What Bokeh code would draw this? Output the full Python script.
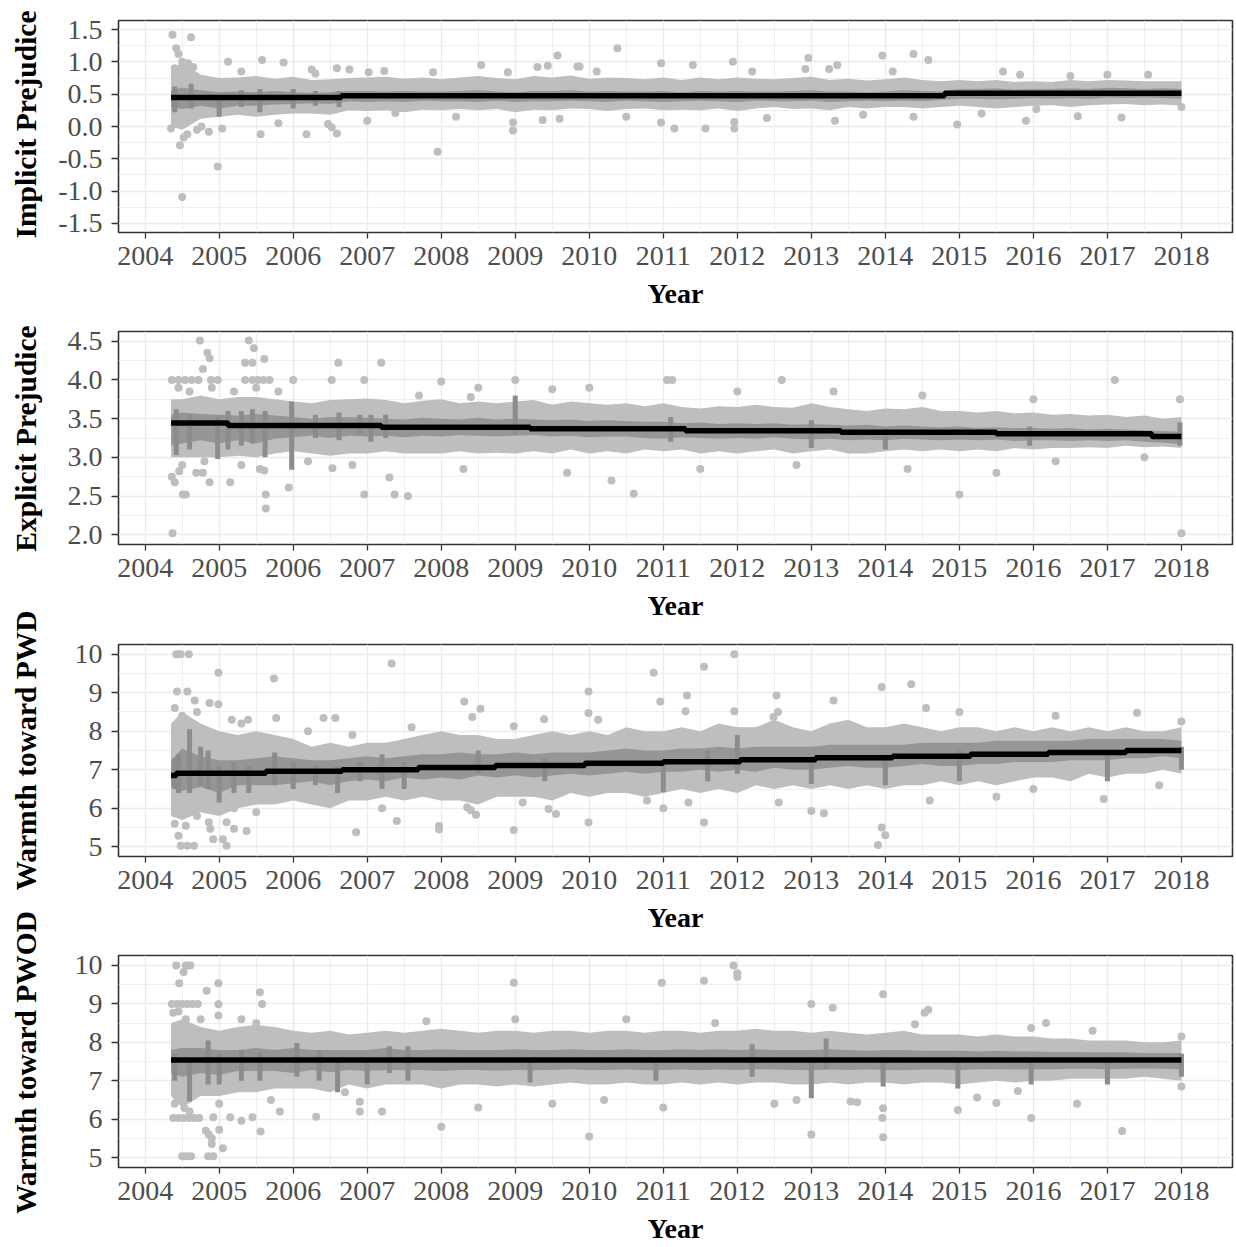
import math
from bokeh.plotting import figure
from bokeh.layouts import row, column
from bokeh.models import Range1d, FixedTicker, PrintfTickFormatter
from bokeh.core.properties import value
from bokeh.embed import file_html
from bokeh.resources import INLINE

FONT = "Liberation Serif"
LIGHT = "#BEBEBE"
DARK = "#8C8C8C"
GRID = "#EBEBEB"
BORDER = "#333333"
TICKLBL = "#4D4D4D"

# ---------------- data ----------------
YEARS = [2004, 2005, 2006, 2007, 2008, 2009, 2010, 2011, 2012, 2013, 2014, 2015, 2016, 2017, 2018]
HALF_YEARS = [2004.5, 2005.5, 2006.5, 2007.5, 2008.5, 2009.5, 2010.5, 2011.5, 2012.5,
              2013.5, 2014.5, 2015.5, 2016.5, 2017.5, 2018.5]

# quarterly dates at which the dense cloud envelope was read
Q = [2004.35, 2004.5, 2004.75,
     2005.0, 2005.25, 2005.5, 2005.75, 2006.0, 2006.25, 2006.5, 2006.75,
     2007.0, 2007.25, 2007.5, 2007.75, 2008.0, 2008.25, 2008.5, 2008.75,
     2009.0, 2009.25, 2009.5, 2009.75, 2010.0, 2010.25, 2010.5, 2010.75,
     2011.0, 2011.25, 2011.5, 2011.75, 2012.0, 2012.25, 2012.5, 2012.75,
     2013.0, 2013.25, 2013.5, 2013.75, 2014.0, 2014.25, 2014.5, 2014.75,
     2015.0, 2015.25, 2015.5, 2015.75, 2016.0, 2016.25, 2016.5, 2016.75,
     2017.0, 2017.25, 2017.5, 2017.75, 2018.0]

# ---- Implicit prejudice ----
IP_lo = [0.00, -0.05, 0.12, 0.15, 0.18, 0.15, 0.18, 0.20, 0.20, 0.18, 0.25, 0.24, 0.25, 0.22,
         0.26, 0.25, 0.27, 0.25, 0.27, 0.22, 0.26, 0.25, 0.28, 0.27, 0.24, 0.27, 0.28, 0.25,
         0.26, 0.25, 0.28, 0.24, 0.28, 0.30, 0.27, 0.28, 0.25, 0.30, 0.28, 0.30, 0.30, 0.28,
         0.30, 0.32, 0.30, 0.28, 0.30, 0.32, 0.33, 0.30, 0.33, 0.34, 0.35, 0.33, 0.34, 0.32]
IP_hi = [0.85, 1.00, 0.80, 0.75, 0.76, 0.78, 0.74, 0.77, 0.72, 0.73, 0.75, 0.76, 0.77, 0.74,
         0.76, 0.73, 0.76, 0.78, 0.75, 0.73, 0.78, 0.76, 0.79, 0.74, 0.76, 0.75, 0.73, 0.76,
         0.72, 0.76, 0.73, 0.76, 0.74, 0.73, 0.75, 0.77, 0.72, 0.74, 0.71, 0.73, 0.76, 0.72,
         0.70, 0.72, 0.70, 0.72, 0.69, 0.70, 0.69, 0.72, 0.70, 0.72, 0.71, 0.70, 0.70, 0.70]
IP_dlo = [0.30, 0.27, 0.32, 0.28, 0.32, 0.32, 0.34, 0.35, 0.36, 0.35, 0.39, 0.38, 0.39, 0.38,
          0.40, 0.39, 0.39, 0.38, 0.40, 0.38, 0.39, 0.39, 0.40, 0.39, 0.38, 0.40, 0.39, 0.38,
          0.39, 0.40, 0.39, 0.38, 0.40, 0.39, 0.39, 0.40, 0.38, 0.39, 0.40, 0.39, 0.40, 0.39,
          0.41, 0.43, 0.43, 0.42, 0.43, 0.44, 0.43, 0.44, 0.43, 0.45, 0.44, 0.45, 0.44, 0.43]
IP_dhi = [0.56, 0.60, 0.56, 0.53, 0.54, 0.53, 0.55, 0.53, 0.52, 0.53, 0.55, 0.55, 0.54, 0.55,
          0.54, 0.54, 0.55, 0.56, 0.54, 0.53, 0.55, 0.55, 0.56, 0.54, 0.55, 0.54, 0.54, 0.55,
          0.53, 0.55, 0.54, 0.55, 0.54, 0.54, 0.55, 0.56, 0.54, 0.54, 0.53, 0.54, 0.56, 0.55,
          0.54, 0.58, 0.58, 0.59, 0.57, 0.58, 0.58, 0.59, 0.58, 0.60, 0.59, 0.58, 0.59, 0.58]
IP_spk_x = [2004.40, 2004.62, 2005.00, 2005.30, 2005.55, 2006.00, 2006.30, 2006.62]
IP_spk_lo = [0.22, 0.28, 0.15, 0.30, 0.22, 0.28, 0.32, 0.30]
IP_spk_hi = [0.62, 0.66, 0.50, 0.56, 0.58, 0.58, 0.55, 0.55]
IP_out = [(2004.37, 1.42), (2004.62, 1.38), (2004.42, 1.21), (2004.45, 1.12), (2004.50, 1.00),
          (2004.58, 0.98), (2005.12, 1.00), (2005.58, 1.03), (2005.87, 0.99), (2006.25, 0.88),
          (2006.59, 0.90), (2006.76, 0.88), (2007.02, 0.84), (2007.23, 0.86), (2004.98, -0.62),
          (2004.50, -1.09), (2004.47, -0.29), (2004.52, -0.17), (2004.57, -0.12), (2004.76, 0.00),
          (2004.86, -0.08), (2004.35, -0.03), (2005.56, -0.12), (2005.04, -0.03), (2006.18, -0.12),
          (2006.47, 0.04), (2006.52, -0.01), (2006.59, -0.11), (2007.00, 0.09), (2007.38, 0.21),
          (2007.95, -0.39), (2008.54, 0.95), (2009.57, 1.10), (2010.38, 1.21), (2010.97, 0.98),
          (2011.94, 1.00), (2012.96, 1.06), (2008.97, -0.06), (2008.97, 0.06), (2009.37, 0.10),
          (2010.97, 0.06), (2011.15, -0.03), (2011.57, -0.03), (2011.96, -0.03), (2011.96, 0.07),
          (2009.84, 0.93), (2009.87, 0.93), (2009.30, 0.92), (2009.44, 0.94), (2007.89, 0.84),
          (2008.90, 0.84), (2011.40, 0.95), (2012.92, 0.89), (2013.96, 1.10), (2014.38, 1.12),
          (2014.58, 1.03), (2013.24, 0.89), (2013.35, 0.95), (2013.32, 0.09), (2014.38, 0.15),
          (2014.97, 0.03), (2015.59, 0.85), (2015.82, 0.80), (2015.90, 0.09), (2016.04, 0.27),
          (2017.19, 0.14), (2017.55, 0.80), (2018.00, 0.30), (2016.60, 0.16), (2008.20, 0.15),
          (2009.60, 0.12), (2010.50, 0.15), (2012.40, 0.13), (2013.70, 0.18), (2015.30, 0.20),
          (2010.10, 0.85), (2012.20, 0.85), (2014.10, 0.85), (2016.50, 0.78), (2017.00, 0.80),
          (2004.40, 0.90), (2004.55, 0.85), (2004.65, 0.92), (2004.70, -0.05), (2005.30, 0.85),
          (2005.80, 0.05), (2006.30, 0.82)]
IP_tx = [2004.35, 2006.65, 2014.80, 2018.00]
IP_ty = [0.45, 0.475, 0.515, 0.515]

# ---- Explicit prejudice ----
EP_lo = [3.00, 3.00, 3.00, 3.00, 3.02, 3.00, 3.05, 3.08, 3.05, 3.02, 3.05, 3.05, 3.08, 3.05,
         3.05, 3.05, 3.08, 3.05, 3.06, 3.05, 3.08, 3.05, 3.10, 3.05, 3.08, 3.05, 3.10, 3.08,
         3.10, 3.05, 3.08, 3.05, 3.08, 3.10, 3.05, 3.08, 3.10, 3.05, 3.05, 3.08, 3.10, 3.08,
         3.10, 3.08, 3.10, 3.08, 3.12, 3.10, 3.12, 3.12, 3.13, 3.12, 3.15, 3.13, 3.14, 3.12]
EP_hi = [3.75, 3.75, 3.80, 3.75, 3.78, 3.78, 3.75, 3.72, 3.70, 3.74, 3.75, 3.76, 3.74, 3.70,
         3.73, 3.75, 3.70, 3.72, 3.70, 3.72, 3.74, 3.68, 3.72, 3.70, 3.68, 3.70, 3.66, 3.70,
         3.65, 3.63, 3.66, 3.65, 3.68, 3.65, 3.64, 3.70, 3.65, 3.62, 3.60, 3.63, 3.62, 3.65,
         3.60, 3.60, 3.58, 3.60, 3.57, 3.58, 3.55, 3.56, 3.54, 3.55, 3.52, 3.54, 3.50, 3.52]
EP_dlo = [3.15, 3.18, 3.22, 3.18, 3.22, 3.18, 3.24, 3.26, 3.28, 3.25, 3.28, 3.27, 3.28, 3.26,
          3.28, 3.27, 3.29, 3.28, 3.27, 3.28, 3.29, 3.27, 3.28, 3.26, 3.27, 3.27, 3.25, 3.24,
          3.26, 3.25, 3.24, 3.25, 3.24, 3.26, 3.24, 3.23, 3.24, 3.22, 3.23, 3.22, 3.24, 3.23,
          3.22, 3.23, 3.22, 3.23, 3.21, 3.22, 3.22, 3.21, 3.22, 3.21, 3.22, 3.20, 3.19, 3.17]
EP_dhi = [3.55, 3.58, 3.56, 3.55, 3.54, 3.56, 3.54, 3.52, 3.50, 3.52, 3.52, 3.51, 3.50, 3.49,
          3.51, 3.50, 3.49, 3.51, 3.49, 3.50, 3.49, 3.48, 3.49, 3.47, 3.48, 3.47, 3.46, 3.46,
          3.44, 3.45, 3.43, 3.44, 3.43, 3.44, 3.42, 3.43, 3.42, 3.41, 3.42, 3.40, 3.41, 3.40,
          3.39, 3.40, 3.38, 3.39, 3.38, 3.38, 3.37, 3.38, 3.36, 3.37, 3.36, 3.35, 3.34, 3.33]
EP_spk_x = [2004.42, 2004.60, 2004.98, 2005.12, 2005.30, 2005.45, 2005.62, 2005.98, 2006.30,
            2006.62, 2006.90, 2007.05, 2007.25, 2009.00, 2011.10, 2013.00, 2014.00, 2015.95,
            2017.98]
EP_spk_lo = [3.03, 3.10, 2.98, 3.10, 3.15, 3.18, 3.00, 2.84, 3.25, 3.22, 3.30, 3.20, 3.25,
             3.30, 3.20, 3.12, 3.10, 3.15, 3.15]
EP_spk_hi = [3.62, 3.55, 3.52, 3.60, 3.60, 3.62, 3.60, 3.72, 3.55, 3.58, 3.55, 3.55, 3.55,
             3.80, 3.52, 3.48, 3.38, 3.40, 3.45]
EP_out = [(2004.37, 2.02), (2004.74, 4.51), (2004.84, 4.35), (2004.87, 4.28), (2004.78, 4.14),
          (2005.40, 4.51), (2005.47, 4.41), (2005.35, 4.22), (2005.45, 4.22), (2005.61, 4.27),
          (2006.00, 4.00), (2006.61, 4.22), (2007.19, 4.22), (2006.52, 4.00), (2006.96, 4.00),
          (2004.36, 4.00), (2004.45, 4.00), (2004.54, 4.00), (2004.63, 4.00), (2004.72, 4.00),
          (2004.89, 4.00), (2004.98, 4.00), (2005.35, 4.00), (2005.45, 4.00), (2005.52, 4.00),
          (2005.60, 4.00), (2005.68, 4.00), (2004.36, 2.75), (2004.40, 2.68), (2004.46, 2.82),
          (2004.51, 2.52), (2004.55, 2.52), (2004.69, 2.80), (2004.78, 2.80), (2004.87, 2.68),
          (2005.15, 2.68), (2005.61, 2.83), (2005.63, 2.52), (2005.63, 2.34), (2005.94, 2.61),
          (2006.53, 2.86), (2006.96, 2.52), (2007.37, 2.52), (2007.30, 2.74), (2008.00, 3.98),
          (2009.00, 4.00), (2011.05, 4.00), (2011.12, 4.00), (2012.60, 4.00), (2017.10, 4.00),
          (2015.00, 2.52), (2018.00, 2.02), (2010.30, 2.70), (2010.60, 2.53), (2007.55, 2.50),
          (2015.50, 2.80), (2008.40, 3.78), (2008.50, 3.90), (2009.50, 3.88), (2010.00, 3.90),
          (2012.00, 3.85), (2013.30, 3.85), (2014.50, 3.80), (2016.00, 3.75), (2008.30, 2.85),
          (2009.70, 2.80), (2011.50, 2.85), (2012.80, 2.90), (2014.30, 2.85), (2016.30, 2.95),
          (2017.50, 3.00), (2017.98, 3.75), (2004.45, 3.90), (2004.60, 3.85), (2004.90, 3.90),
          (2005.20, 3.85), (2005.50, 3.90), (2005.80, 3.85), (2004.50, 2.90), (2004.80, 2.95),
          (2005.30, 2.90), (2005.55, 2.85), (2006.20, 2.95), (2006.80, 2.90), (2007.70, 3.80)]
EP_tx = [2004.35, 2005.12, 2007.19, 2009.20, 2011.30, 2013.40, 2015.50, 2017.60, 2018.00]
EP_ty = [3.445, 3.41, 3.39, 3.37, 3.345, 3.325, 3.305, 3.27, 3.27]

# ---- Warmth toward PWD ----
WD_lo = [5.80, 5.70, 5.90, 5.80, 6.00, 6.10, 6.10, 6.20, 6.10, 6.00, 6.20, 6.20, 6.30, 6.20,
         6.30, 6.20, 6.20, 6.10, 6.30, 6.30, 6.30, 6.20, 6.40, 6.30, 6.40, 6.40, 6.30, 6.40,
         6.50, 6.40, 6.50, 6.40, 6.60, 6.50, 6.60, 6.50, 6.60, 6.50, 6.60, 6.50, 6.60, 6.60,
         6.70, 6.60, 6.70, 6.60, 6.70, 6.80, 6.80, 6.70, 6.90, 6.80, 6.90, 6.90, 7.00, 6.90]
WD_hi = [8.20, 8.50, 8.20, 8.00, 7.90, 8.00, 7.90, 7.80, 7.60, 7.70, 7.60, 7.70, 7.70, 7.80,
         7.90, 8.00, 7.90, 7.90, 7.80, 7.80, 7.90, 8.00, 7.90, 8.00, 7.90, 8.10, 8.00, 8.00,
         8.10, 8.00, 8.20, 8.10, 8.10, 8.30, 8.10, 8.00, 8.20, 8.30, 8.10, 8.10, 8.20, 8.10,
         8.00, 8.10, 8.10, 8.00, 8.10, 8.00, 8.10, 8.00, 8.10, 8.00, 8.10, 8.00, 8.00, 8.10]
WD_dlo = [6.55, 6.45, 6.55, 6.40, 6.60, 6.60, 6.60, 6.65, 6.70, 6.60, 6.70, 6.75, 6.70, 6.80,
          6.75, 6.80, 6.75, 6.85, 6.80, 6.85, 6.80, 6.85, 6.90, 6.85, 6.90, 6.95, 6.90, 6.95,
          6.95, 7.00, 6.95, 7.00, 6.95, 7.05, 7.00, 7.00, 7.05, 7.10, 7.05, 7.05, 7.10, 7.15,
          7.10, 7.10, 7.15, 7.15, 7.20, 7.20, 7.20, 7.25, 7.25, 7.25, 7.30, 7.30, 7.35, 7.30]
WD_dhi = [7.25, 7.55, 7.35, 7.25, 7.25, 7.30, 7.35, 7.30, 7.25, 7.25, 7.30, 7.35, 7.30, 7.35,
          7.40, 7.40, 7.45, 7.40, 7.40, 7.45, 7.40, 7.45, 7.45, 7.45, 7.50, 7.55, 7.50, 7.50,
          7.55, 7.55, 7.60, 7.55, 7.60, 7.60, 7.60, 7.60, 7.65, 7.65, 7.65, 7.65, 7.65, 7.70,
          7.70, 7.70, 7.70, 7.75, 7.75, 7.75, 7.75, 7.75, 7.80, 7.80, 7.80, 7.80, 7.80, 7.75]
WD_spk_x = [2004.40, 2004.45, 2004.60, 2004.75, 2004.85, 2005.00, 2005.20, 2005.40, 2005.75,
            2006.00, 2006.30, 2006.60, 2006.90, 2007.20, 2007.50, 2008.50, 2009.40, 2011.00,
            2011.60, 2012.00, 2013.00, 2014.00, 2015.00, 2017.00, 2018.00]
WD_spk_lo = [6.50, 6.40, 6.40, 6.60, 6.50, 6.15, 6.40, 6.40, 6.60, 6.50, 6.60, 6.40, 6.70,
             6.50, 6.50, 6.90, 6.70, 6.42, 6.70, 6.90, 6.63, 6.60, 6.70, 6.70, 7.00]
WD_spk_hi = [7.30, 7.40, 8.05, 7.60, 7.50, 7.10, 7.20, 7.10, 7.45, 7.20, 7.10, 7.10, 7.20,
             7.40, 7.20, 7.50, 7.30, 7.20, 7.50, 7.90, 7.30, 7.40, 7.50, 7.50, 7.60]
WD_out = [(2004.42, 10.0), (2004.45, 10.0), (2004.48, 10.0), (2004.59, 10.0), (2004.99, 9.52),
          (2005.74, 9.37), (2007.33, 9.76), (2004.43, 9.03), (2004.57, 9.03), (2004.67, 8.80),
          (2004.87, 8.73), (2004.99, 8.70), (2005.77, 8.34), (2006.41, 8.34), (2006.57, 8.34),
          (2005.17, 8.30), (2005.39, 8.30), (2004.45, 5.29), (2004.48, 5.03), (2004.57, 5.03),
          (2004.66, 5.03), (2004.55, 5.55), (2004.86, 5.64), (2004.92, 5.20), (2005.05, 5.20),
          (2005.10, 5.03), (2005.20, 5.47), (2005.37, 5.41), (2004.88, 5.47), (2006.85, 5.38),
          (2007.40, 5.67), (2005.10, 5.64), (2008.31, 8.77), (2008.53, 8.58), (2008.42, 8.37),
          (2008.98, 8.13), (2009.39, 8.31), (2009.99, 9.03), (2009.99, 8.47), (2010.12, 8.30),
          (2010.87, 9.52), (2010.96, 8.77), (2011.32, 8.93), (2011.30, 8.52), (2011.55, 9.67),
          (2011.96, 10.0), (2011.96, 8.52), (2012.53, 8.93), (2013.30, 8.80), (2012.49, 8.37),
          (2012.55, 8.50), (2008.98, 5.44), (2009.99, 5.63), (2011.55, 5.63), (2013.17, 5.87),
          (2008.47, 5.83), (2008.40, 5.95), (2008.35, 6.03), (2010.78, 6.20), (2011.34, 6.15),
          (2011.00, 6.00), (2009.45, 5.98), (2009.55, 5.85), (2009.10, 6.15), (2012.56, 6.15),
          (2007.97, 5.54), (2007.97, 5.46), (2013.95, 9.15), (2014.35, 9.22), (2014.00, 5.30),
          (2013.95, 5.50), (2013.90, 5.05), (2016.95, 6.24), (2017.40, 8.48), (2018.00, 8.25),
          (2013.00, 5.93), (2014.55, 8.60), (2015.00, 8.50), (2015.50, 6.30), (2016.30, 8.40),
          (2014.60, 6.20), (2016.00, 6.50), (2017.70, 6.60), (2004.40, 8.60), (2004.50, 8.40),
          (2004.70, 8.50), (2004.60, 6.00), (2004.40, 5.60), (2004.70, 5.80), (2005.30, 8.20),
          (2005.50, 5.90), (2004.80, 6.00), (2005.20, 6.00), (2006.20, 8.00), (2006.80, 7.90),
          (2007.20, 6.00), (2007.60, 8.10)]
WD_tx = [2004.35, 2004.42, 2005.63, 2006.66, 2007.69, 2008.73, 2009.94, 2011.00, 2012.04,
         2013.06, 2014.10, 2015.15, 2016.20, 2017.25, 2018.00]
WD_ty = [6.85, 6.91, 6.96, 7.00, 7.06, 7.11, 7.17, 7.21, 7.26, 7.31, 7.35, 7.40, 7.45, 7.50, 7.50]

# ---- Warmth toward PWOD ----
WO_lo = [6.60, 6.30, 6.60, 6.60, 6.70, 6.70, 6.80, 6.80, 6.80, 6.70, 6.90, 6.80, 6.90, 6.90,
         6.90, 6.80, 6.90, 6.90, 6.85, 6.90, 6.85, 6.90, 6.95, 6.90, 6.90, 6.95, 6.90, 6.90,
         6.95, 6.90, 6.95, 6.90, 6.95, 6.95, 6.90, 6.90, 6.95, 6.90, 6.95, 6.95, 6.90, 6.95,
         6.95, 6.90, 6.95, 7.00, 6.95, 7.00, 7.00, 7.05, 7.05, 7.05, 7.05, 7.10, 7.05, 7.00]
WO_hi = [8.50, 8.60, 8.40, 8.30, 8.40, 8.45, 8.40, 8.30, 8.25, 8.30, 8.20, 8.25, 8.30, 8.25,
         8.30, 8.35, 8.30, 8.25, 8.30, 8.30, 8.25, 8.30, 8.30, 8.25, 8.30, 8.30, 8.25, 8.30,
         8.30, 8.25, 8.30, 8.30, 8.35, 8.30, 8.30, 8.25, 8.30, 8.25, 8.20, 8.25, 8.30, 8.20,
         8.20, 8.20, 8.15, 8.20, 8.15, 8.15, 8.10, 8.10, 8.05, 8.05, 8.05, 8.00, 8.00, 8.05]
WO_dlo = [7.20, 7.10, 7.20, 7.15, 7.25, 7.25, 7.25, 7.20, 7.28, 7.22, 7.28, 7.25, 7.28, 7.27,
          7.28, 7.25, 7.28, 7.28, 7.26, 7.28, 7.27, 7.28, 7.30, 7.27, 7.28, 7.29, 7.27, 7.28,
          7.29, 7.27, 7.29, 7.28, 7.30, 7.29, 7.28, 7.27, 7.29, 7.28, 7.29, 7.28, 7.27, 7.29,
          7.29, 7.27, 7.30, 7.30, 7.29, 7.30, 7.30, 7.31, 7.31, 7.30, 7.31, 7.32, 7.31, 7.30]
WO_dhi = [7.80, 7.85, 7.85, 7.80, 7.80, 7.85, 7.80, 7.85, 7.80, 7.80, 7.80, 7.80, 7.85, 7.80,
          7.80, 7.82, 7.80, 7.80, 7.80, 7.82, 7.80, 7.80, 7.82, 7.80, 7.80, 7.82, 7.80, 7.80,
          7.82, 7.80, 7.82, 7.80, 7.82, 7.80, 7.80, 7.80, 7.82, 7.80, 7.78, 7.80, 7.80, 7.78,
          7.78, 7.78, 7.76, 7.78, 7.76, 7.76, 7.75, 7.75, 7.74, 7.74, 7.74, 7.72, 7.72, 7.72]
WO_spk_x = [2004.40, 2004.60, 2004.85, 2005.00, 2005.30, 2005.55, 2006.05, 2006.35, 2006.60,
            2007.00, 2007.30, 2007.55, 2009.20, 2010.90, 2012.20, 2013.00, 2013.20, 2013.97,
            2014.98, 2015.97, 2017.00, 2018.00]
WO_spk_lo = [7.00, 6.46, 6.90, 6.90, 7.00, 7.00, 7.10, 7.00, 6.70, 6.90, 7.20, 7.00, 6.95,
             7.00, 7.10, 6.54, 7.30, 6.85, 6.80, 6.90, 6.90, 7.10]
WO_spk_hi = [7.70, 7.50, 8.05, 7.70, 7.80, 7.75, 7.98, 7.80, 7.50, 7.60, 7.90, 7.90, 7.55,
             7.60, 7.95, 7.52, 8.10, 7.50, 7.50, 7.50, 7.50, 7.70]
WO_out = [(2004.42, 10.0), (2004.55, 10.0), (2004.58, 10.0), (2004.61, 10.0), (2004.52, 9.83),
          (2004.46, 9.54), (2004.83, 9.34), (2004.99, 9.54), (2004.99, 8.99), (2004.99, 8.70),
          (2005.55, 9.30), (2005.58, 9.00), (2004.36, 9.00), (2004.43, 9.00), (2004.50, 9.00),
          (2004.57, 9.00), (2004.64, 9.00), (2004.71, 9.00), (2004.38, 8.77), (2004.38, 6.03),
          (2004.45, 6.03), (2004.52, 6.03), (2004.59, 6.03), (2004.66, 6.03), (2004.73, 6.03),
          (2004.53, 6.29), (2004.40, 6.40), (2004.50, 5.03), (2004.56, 5.03), (2004.62, 5.03),
          (2004.82, 5.70), (2004.86, 5.60), (2004.90, 5.50), (2004.90, 5.35), (2004.85, 5.03),
          (2004.92, 5.03), (2005.00, 5.72), (2005.05, 5.24), (2004.92, 6.05), (2005.15, 6.05),
          (2005.30, 5.96), (2005.45, 6.05), (2005.56, 5.68), (2005.82, 6.20), (2006.31, 6.06),
          (2006.90, 6.20), (2007.20, 6.20), (2006.70, 6.70), (2006.90, 6.45), (2008.98, 9.55),
          (2010.98, 9.55), (2011.55, 9.60), (2011.95, 10.0), (2012.00, 9.80), (2012.00, 9.70),
          (2013.00, 9.00), (2013.29, 8.90), (2013.97, 9.25), (2014.53, 8.77), (2014.58, 8.85),
          (2014.40, 8.47), (2010.00, 5.55), (2013.00, 5.60), (2013.97, 5.53), (2013.96, 6.03),
          (2013.97, 6.28), (2017.20, 5.69), (2015.97, 6.03), (2014.98, 6.24), (2015.24, 6.56),
          (2015.50, 6.42), (2015.79, 6.73), (2015.97, 8.37), (2016.17, 8.50), (2016.59, 6.40),
          (2018.00, 8.15), (2018.00, 6.85), (2013.62, 6.44), (2013.53, 6.46), (2008.00, 5.80),
          (2008.50, 6.30), (2009.50, 6.40), (2010.50, 8.60), (2011.00, 6.30), (2012.50, 6.40),
          (2009.00, 8.60), (2004.45, 8.80), (2004.55, 8.60), (2004.75, 8.60), (2005.30, 8.60),
          (2005.50, 8.50), (2004.60, 6.20), (2005.00, 6.40), (2005.70, 6.50), (2007.80, 8.55),
          (2010.20, 6.50), (2011.70, 8.50), (2012.80, 6.50), (2016.80, 8.30)]
WO_tx = [2004.35, 2018.00]
WO_ty = [7.54, 7.54]

YLABELS = ["Implicit Prejudice", "Explicit Prejudice", "Warmth toward PWD", "Warmth toward PWOD"]

# ---------------- layout ----------------
LABEL_W = 48
PANEL_W = 1188
TOTAL_H = 1246


def panel(h, top, bottom, left, yr, yt, ymt, fmt, lo, hi, dlo, dhi, sx, slo, shi, out, tx, ty):
    p = figure(width=PANEL_W, height=h, x_range=Range1d(2003.64, 2018.69), y_range=Range1d(*yr),
               output_backend="svg", toolbar_location=None,
               min_border_left=left, min_border_right=4, min_border_top=top, min_border_bottom=bottom)
    p.background_fill_color = "white"
    p.border_fill_color = "white"
    p.outline_line_color = BORDER
    p.outline_line_width = 1.6
    p.xaxis.ticker = FixedTicker(ticks=YEARS, minor_ticks=HALF_YEARS)
    p.yaxis.ticker = FixedTicker(ticks=yt, minor_ticks=ymt)
    p.xaxis.formatter = PrintfTickFormatter(format="%d")
    p.yaxis.formatter = PrintfTickFormatter(format=fmt)
    for g in (p.xgrid, p.ygrid):
        g.grid_line_color = GRID
        g.grid_line_width = 1.4
        g.minor_grid_line_color = GRID
        g.minor_grid_line_width = 0.8
    for ax in (p.xaxis, p.yaxis):
        ax.axis_line_color = None
        ax.major_tick_line_color = BORDER
        ax.major_tick_line_width = 1.3
        ax.major_tick_in = 0
        ax.minor_tick_line_color = None
        ax.major_label_text_font = FONT
        ax.major_label_text_font_size = "28px"
        ax.major_label_text_color = TICKLBL
    p.xaxis.major_tick_out = 6
    p.xaxis.major_label_standoff = 8
    p.yaxis.major_tick_out = 7
    p.yaxis.major_label_standoff = 9
    p.xaxis.axis_label = "Year"
    p.xaxis.axis_label_text_font = FONT
    p.xaxis.axis_label_text_font_style = "bold"
    p.xaxis.axis_label_text_font_size = "28px"
    p.xaxis.axis_label_text_color = "black"
    p.xaxis.axis_label_standoff = 10

    n = min(len(Q), len(lo), len(hi))
    p.varea(x=Q[:n], y1=lo[:n], y2=hi[:n], fill_color=LIGHT)
    ox = [a for a, b in out]
    oy = [b for a, b in out]
    p.scatter(x=ox, y=oy, size=8, marker="circle", fill_color=LIGHT, line_color=None)
    m = min(len(Q), len(dlo), len(dhi))
    p.varea(x=Q[:m], y1=dlo[:m], y2=dhi[:m], fill_color=DARK, fill_alpha=0.8)
    k = min(len(sx), len(slo), len(shi))
    p.segment(x0=sx[:k], y0=slo[:k], x1=sx[:k], y1=shi[:k], line_color=DARK, line_width=5)
    p.step(x=tx, y=ty, mode="after", line_color="black", line_width=5.5)
    return p


p1 = panel(312, 20, 80, 70, (-1.64, 1.64), [-1.5, -1.0, -0.5, 0.0, 0.5, 1.0, 1.5],
           [-1.25, -0.75, -0.25, 0.25, 0.75, 1.25], "%.1f",
           IP_lo, IP_hi, IP_dlo, IP_dhi, IP_spk_x, IP_spk_lo, IP_spk_hi, IP_out, IP_tx, IP_ty)
p2 = panel(312, 19, 80, 59, (1.875, 4.625), [2.0, 2.5, 3.0, 3.5, 4.0, 4.5],
           [2.25, 2.75, 3.25, 3.75, 4.25], "%.1f",
           EP_lo, EP_hi, EP_dlo, EP_dhi, EP_spk_x, EP_spk_lo, EP_spk_hi, EP_out, EP_tx, EP_ty)
p3 = panel(312, 20, 80, 45, (4.75, 10.25), [5, 6, 7, 8, 9, 10],
           [5.5, 6.5, 7.5, 8.5, 9.5], "%d",
           WD_lo, WD_hi, WD_dlo, WD_dhi, WD_spk_x, WD_spk_lo, WD_spk_hi, WD_out, WD_tx, WD_ty)
p4 = panel(310, 19, 79, 45, (4.74, 10.26), [5, 6, 7, 8, 9, 10],
           [5.5, 6.5, 7.5, 8.5, 9.5], "%d",
           WO_lo, WO_hi, WO_dlo, WO_dhi, WO_spk_x, WO_spk_lo, WO_spk_hi, WO_out, WO_tx, WO_ty)

# y-axis titles live in a narrow strip so they can run past their panel's height
lab = figure(width=LABEL_W, height=TOTAL_H, x_range=Range1d(0, LABEL_W), y_range=Range1d(TOTAL_H, 0),
             output_backend="svg", toolbar_location=None, x_axis_type=None, y_axis_type=None,
             min_border=0)
lab.outline_line_color = None
lab.grid.visible = False
lab.background_fill_color = "white"
lab.border_fill_color = "white"
lab.text(x=[25, 25, 25, 25], y=[124, 438, 750, 1062], text=YLABELS, angle=math.pi / 2,
         text_align="center", text_baseline="alphabetic", text_font=value(FONT),
         text_font_style="bold", text_font_size="29.5px", text_color="black")

layout = row(lab, column(p1, p2, p3, p4))
open("out.html", "w").write(file_html(layout, INLINE))
